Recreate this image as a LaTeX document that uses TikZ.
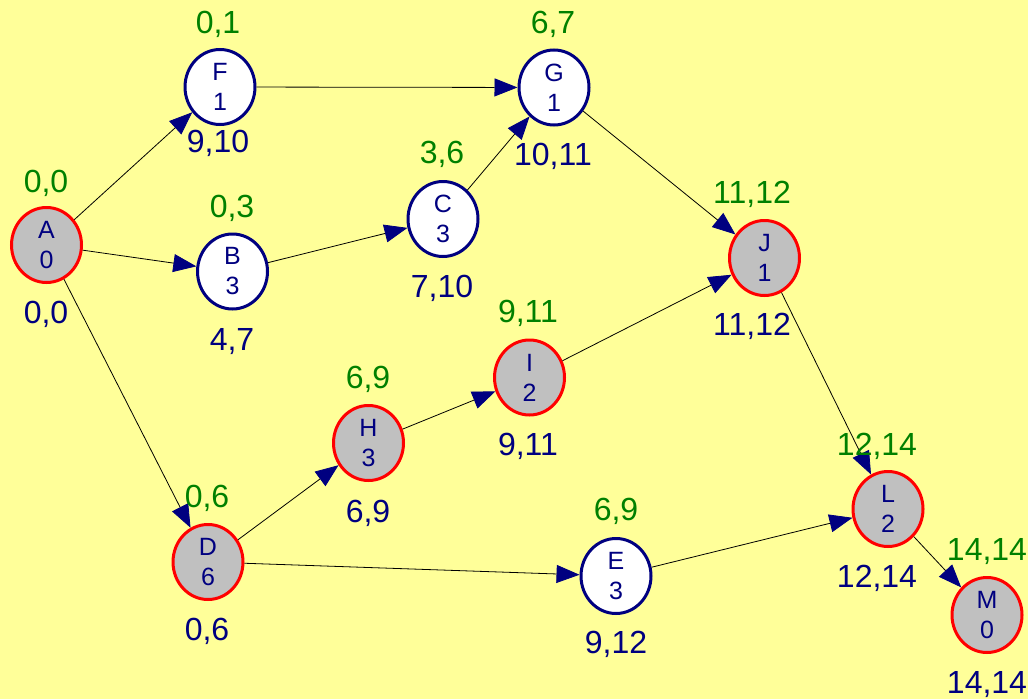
\documentclass[tikz,border=0pt]{standalone}
\usepackage{fontspec}
\setmainfont{Liberation Sans}
\usetikzlibrary{shapes.geometric,arrows.meta}
\definecolor{bgyellow}{HTML}{FFFF99}
\definecolor{navyc}{HTML}{000080}
\definecolor{greenc}{HTML}{008000}
\definecolor{redc}{HTML}{FF0000}
\definecolor{grayc}{HTML}{C0C0C0}
\tikzset{
  act/.style={ellipse, minimum width=70pt, minimum height=75pt, inner sep=0pt,
    line width=3pt, align=center, text=navyc,
    font=\fontsize{25}{30}\selectfont},
  normal/.style={act, draw=navyc, fill=white},
  critical/.style={act, draw=redc, fill=grayc},
  early/.style={anchor=base, text=greenc, font=\fontsize{32}{38}\selectfont, inner sep=0pt},
  late/.style={anchor=base, text=navyc, font=\fontsize{32}{38}\selectfont, inner sep=0pt},
  link/.style={draw=black, line width=0.8pt,
    -{Triangle[length=23pt,width=18pt,color=navyc,fill=navyc]}},
}
\begin{document}
\begin{tikzpicture}[x=1pt,y=-1pt]
\useasboundingbox (0,0) rectangle (1028,699);
\fill[bgyellow] (0,0) rectangle (1028,699);

\node[critical] (A) at (46.5,245) {A\\0};
\node[normal]   (F) at (220,87) {F\\1};
\node[normal]   (G) at (554,87.5) {G\\1};
\node[normal]   (C) at (443,219) {C\\3};
\node[normal]   (B) at (232.5,271.5) {B\\3};
\node[critical] (J) at (764.5,258) {J\\1};
\node[critical] (I) at (529.5,377.5) {I\\2};
\node[critical] (H) at (368.5,443) {H\\3};
\node[normal]   (E) at (616,576) {E\\3};
\node[critical] (D) at (208,562) {D\\6};
\node[critical] (L) at (888,509) {L\\2};
\node[critical] (M) at (987,615) {M\\0};

\draw[link] (A) -- (F);
\draw[link] (A) -- (B);
\draw[link] (A) -- (D);
\draw[link] (F) -- (G);
\draw[link] (B) -- (C);
\draw[link] (C) -- (G);
\draw[link] (G) -- (J);
\draw[link] (D) -- (H);
\draw[link] (H) -- (I);
\draw[link] (I) -- (J);
\draw[link] (D) -- (E);
\draw[link] (E) -- (L);
\draw[link] (J) -- (L);
\draw[link] (L) -- (M);

\node[early] (At) at (46,192) {0,0};
\node[late]  (Ab) at (46,323) {0,0};
\node[early] (Ft) at (218,33) {0,1};
\node[late]  (Fb) at (218,152) {9,10};
\node[early] (Gt) at (553,33) {6,7};
\node[late]  (Gb) at (553,165) {10,11};
\node[early] (Ct) at (442,163) {3,6};
\node[late]  (Cb) at (442,297) {7,10};
\node[early] (Bt) at (232,217) {0,3};
\node[late]  (Bb) at (232,350) {4,7};
\node[early] (Jt) at (752,203) {11,12};
\node[late]  (Jb) at (752,335) {11,12};
\node[early] (It) at (528,322) {9,11};
\node[late]  (Ib) at (528,455) {9,11};
\node[early] (Ht) at (368,388) {6,9};
\node[late]  (Hb) at (368,522) {6,9};
\node[early] (Et) at (616,520) {6,9};
\node[late]  (Eb) at (616,653) {9,12};
\node[early] (Dt) at (207,507) {0,6};
\node[late]  (Db) at (207,640) {0,6};
\node[early] (Lt) at (877,455) {12,14};
\node[late]  (Lb) at (877,587) {12,14};
\node[early] (Mt) at (987,560) {14,14};
\node[late]  (Mb) at (987,693) {14,14};
\end{tikzpicture}
\end{document}
